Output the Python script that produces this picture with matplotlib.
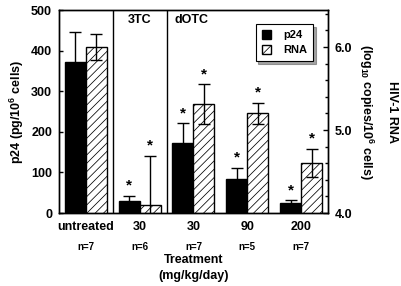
import numpy as np
import matplotlib
matplotlib.use("Agg")
import matplotlib.pyplot as plt
from matplotlib.ticker import MultipleLocator
import matplotlib.transforms as mtransforms

plt.rcParams['font.family'] = ['Liberation Sans', 'DejaVu Sans']
plt.rcParams['font.weight'] = 'bold'
plt.rcParams['mathtext.fontset'] = 'custom'
plt.rcParams['mathtext.rm'] = 'Liberation Sans:bold'
plt.rcParams['mathtext.bf'] = 'Liberation Sans:bold'
plt.rcParams['mathtext.default'] = 'bf'
plt.rcParams['hatch.linewidth'] = 0.55
plt.rcParams['hatch.color'] = '#444444'

# data
groups = ["untreated", "30", "30", "90", "200"]
n_labels = ["n=7", "n=6", "n=7", "n=5", "n=7"]
p24 = [371, 29, 172, 83, 24]
p24_err = [74, 13, 49, 29, 7]
rna = [6.0, 4.1, 5.31, 5.2, 4.6]
rna_err = [0.16, 0.59, 0.24, 0.13, 0.17]
p24_star = [False, True, True, True, True]
rna_star = [False, True, True, True, True]

x = np.arange(len(groups))
w = 0.39

fig = plt.figure(figsize=(4.01, 2.86), dpi=100)
ax = fig.add_axes([0.147, 0.255, 0.671, 0.71])
ax2 = ax.twinx()

ax.bar(x - w / 2, p24, w, color='black', edgecolor='black', linewidth=1,
       yerr=p24_err, capsize=4.5, error_kw=dict(elinewidth=1, capthick=1, ecolor='black'),
       label='p24', zorder=2)
ax2.bar(x + w / 2, np.array(rna) - 4.0, w, bottom=4.0, color='white', edgecolor='black',
        linewidth=1, hatch='////', yerr=rna_err, capsize=4.5,
        error_kw=dict(elinewidth=1, capthick=1, ecolor='black'), label='RNA', zorder=2)

ax.set_xlim(-0.5, 4.5)
ax.set_ylim(0, 500)
ax2.set_ylim(4.0, 6.446)

for xs in [0.5, 1.5]:
    ax.axvline(xs, color='black', lw=1)

# stars
for i in range(len(groups)):
    if p24_star[i]:
        ax.text(x[i] - w / 2, p24[i] + p24_err[i] + 8, '*', ha='center', va='bottom', fontsize=11)
    if rna_star[i]:
        ax2.text(x[i] + w / 2, rna[i] + rna_err[i] + 0.04, '*', ha='center', va='bottom', fontsize=11)

tr = mtransforms.blended_transform_factory(ax.transData, ax.transAxes)
ax.text(1, 0.95, '3TC', transform=tr, ha='center', va='center', fontsize=9)
ax.text(1.65, 0.95, 'dOTC', transform=tr, ha='left', va='center', fontsize=9)

ax.set_xticks(x)
ax.set_xticklabels(groups, fontsize=9)
ax.tick_params(axis='x', length=0, pad=6)
ax.yaxis.set_major_locator(MultipleLocator(100))
ax.tick_params(axis='y', direction='in', length=3, width=1, labelsize=9, pad=5)
ax2.yaxis.set_minor_locator(MultipleLocator(0.2))
ax2.set_yticks([4.0, 5.0, 6.0])
ax2.set_yticklabels(['4.0', '5.0', '6.0'])
ax2.tick_params(axis='y', which='major', direction='in', length=3.5, width=1, labelsize=9, pad=5)
ax2.tick_params(axis='y', which='minor', direction='in', length=2, width=1)

for i, lab in enumerate(n_labels):
    ax.text(x[i], -0.165, lab, transform=tr, ha='center', va='center', fontsize=7)

ax.text(0.5, -0.23, 'Treatment', transform=ax.transAxes, ha='center', va='center', fontsize=9)
ax.text(0.5, -0.31, '(mg/kg/day)', transform=ax.transAxes, ha='center', va='center', fontsize=9)

fig.text(17 / 401, 1 - 112 / 286, 'p24 (pg/10$^6$ cells)', rotation=90, ha='center', va='center', fontsize=9)
fig.text(366 / 401, 1 - 112 / 286, '(log$_{10}$ copies/10$^6$ cells)', rotation=-90, ha='center', va='center', fontsize=9)
fig.text(392 / 401, 1 - 112 / 286, 'HIV-1 RNA', rotation=-90, ha='center', va='center', fontsize=9)

for sp in list(ax.spines.values()) + list(ax2.spines.values()):
    sp.set_linewidth(1)

h1, l1 = ax.get_legend_handles_labels()
h2, l2 = ax2.get_legend_handles_labels()
leg = ax2.legend(h1 + h2, l1 + l2, loc='upper right', bbox_to_anchor=(0.944, 0.931),
                 fancybox=False, shadow=True, edgecolor='black', fontsize=8,
                 handlelength=0.8, handleheight=0.8, borderpad=0.55, labelspacing=0.45,
                 handletextpad=1.1, borderaxespad=0)
leg.get_frame().set_linewidth(0.8)

fig.savefig('out.png', dpi=100)
